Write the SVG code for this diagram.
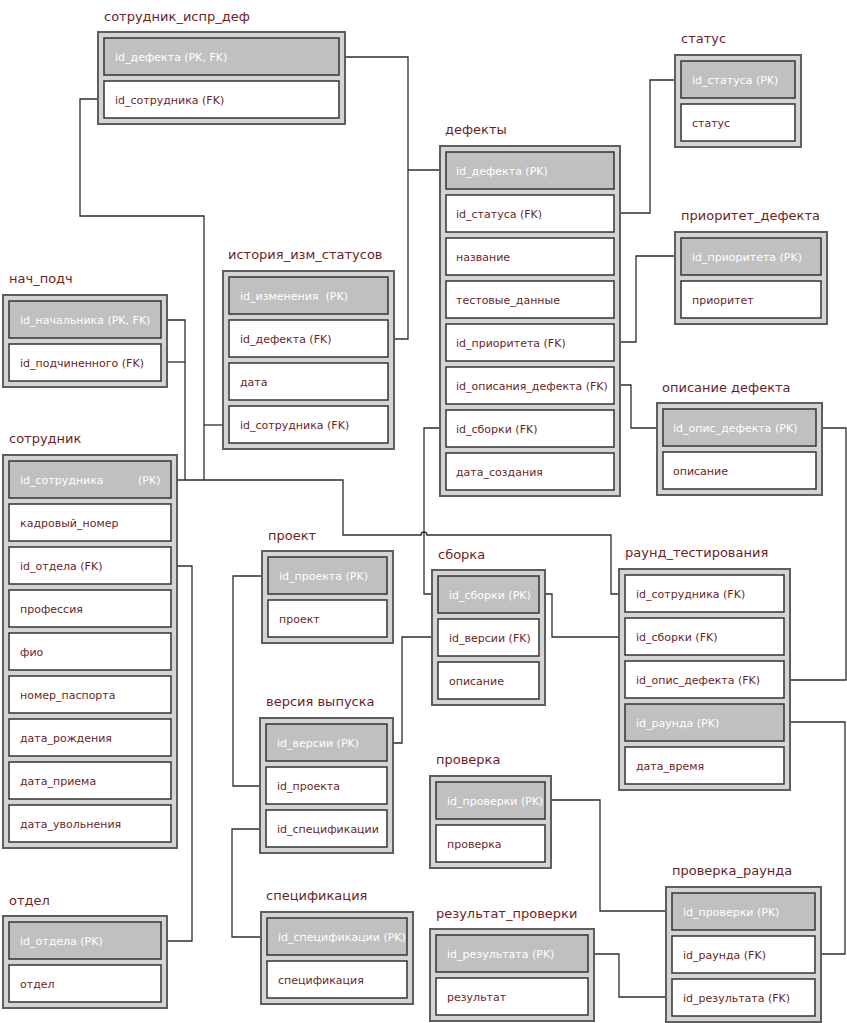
<svg xmlns="http://www.w3.org/2000/svg" width="847" height="1023" viewBox="0 0 847 1023">
<style>
.bg{fill:#ffffff}
.tbl{fill:#d4d4d4;stroke:#5e5e5e;stroke-width:2}
.r{fill:#ffffff;stroke:#333333;stroke-width:1.5}
.pk{fill:#c0c0c0;stroke:#333333;stroke-width:1.5}
.t{font-family:"DejaVu Sans",sans-serif;font-size:13px;fill:#6b1f1f}
.f{font-family:"DejaVu Sans",sans-serif;font-size:11px;fill:#6b1f1f}
.fp{font-family:"DejaVu Sans",sans-serif;font-size:11px;fill:#ffffff}
.c{fill:none;stroke:#2e2e2e;stroke-width:1.3}
</style>
<rect class="bg" x="0" y="0" width="847" height="1023"/>
<g id="connectors">
<path class="c" d="M339,57 H408 V339 H388"/>
<path class="c" d="M408,170 H446"/>
<path class="c" d="M104,99 H80 V216 H204 V480"/>
<path class="c" d="M204,425 H229"/>
<path class="c" d="M161,320 H185 V480"/>
<path class="c" d="M161,362 H185"/>
<path class="c" d="M171,480 H343 V535 H421 A3,3 0 0 1 427,535 H611 V594 H625"/>
<path class="c" d="M614,213 H650 V80 H681"/>
<path class="c" d="M614,342 H636 V256 H681"/>
<path class="c" d="M614,385 H631 V428 H663"/>
<path class="c" d="M816,428 H846 V680 H784"/>
<path class="c" d="M446,428 H424 V594 H438"/>
<path class="c" d="M539,594 H552 V637 H625"/>
<path class="c" d="M438,637 H402 V743 H387"/>
<path class="c" d="M268,576 H233 V786 H266"/>
<path class="c" d="M266,829 H232 V937 H267"/>
<path class="c" d="M171,566 H192 V941 H161"/>
<path class="c" d="M784,722 H845 V954 H815"/>
<path class="c" d="M545,800 H600 V911 H672"/>
<path class="c" d="M588,954 H619 V997 H672"/>
</g>
<g id="sotrudnik_ispr_def">
<text class="t" x="104" y="21">сотрудник_испр_деф</text>
<rect class="tbl" x="98" y="32" width="247" height="92"/>
<rect class="pk" x="104" y="38" width="235" height="37"/>
<text class="fp" x="115" y="61">id_дефекта (PK, FK)</text>
<rect class="r" x="104" y="81" width="235" height="37"/>
<text class="f" x="115" y="104">id_сотрудника (FK)</text>
</g>
<g id="defekty">
<text class="t" x="445" y="134">дефекты</text>
<rect class="tbl" x="440" y="146" width="180" height="350"/>
<rect class="pk" x="446" y="152" width="168" height="37"/>
<text class="fp" x="456" y="175">id_дефекта (PK)</text>
<rect class="r" x="446" y="195" width="168" height="37"/>
<text class="f" x="456" y="218">id_статуса (FK)</text>
<rect class="r" x="446" y="238" width="168" height="37"/>
<text class="f" x="456" y="261">название</text>
<rect class="r" x="446" y="281" width="168" height="37"/>
<text class="f" x="456" y="304">тестовые_данные</text>
<rect class="r" x="446" y="324" width="168" height="37"/>
<text class="f" x="456" y="347">id_приоритета (FK)</text>
<rect class="r" x="446" y="367" width="168" height="37"/>
<text class="f" x="456" y="390">id_описания_дефекта (FK)</text>
<rect class="r" x="446" y="410" width="168" height="37"/>
<text class="f" x="456" y="433">id_сборки (FK)</text>
<rect class="r" x="446" y="453" width="168" height="37"/>
<text class="f" x="456" y="476">дата_создания</text>
</g>
<g id="status">
<text class="t" x="681" y="43">статус</text>
<rect class="tbl" x="675" y="55" width="126" height="92"/>
<rect class="pk" x="681" y="61" width="114" height="37"/>
<text class="fp" x="692" y="84">id_статуса (PK)</text>
<rect class="r" x="681" y="104" width="114" height="37"/>
<text class="f" x="692" y="127">статус</text>
</g>
<g id="prioritet_defekta">
<text class="t" x="681" y="220">приоритет_дефекта</text>
<rect class="tbl" x="675" y="232" width="152" height="92"/>
<rect class="pk" x="681" y="238" width="140" height="37"/>
<text class="fp" x="692" y="261">id_приоритета (PK)</text>
<rect class="r" x="681" y="281" width="140" height="37"/>
<text class="f" x="692" y="304">приоритет</text>
</g>
<g id="opisanie_defekta">
<text class="t" x="662" y="392">описание дефекта</text>
<rect class="tbl" x="657" y="403" width="165" height="92"/>
<rect class="pk" x="663" y="409" width="153" height="37"/>
<text class="fp" x="673" y="432">id_опис_дефекта (PK)</text>
<rect class="r" x="663" y="452" width="153" height="37"/>
<text class="f" x="673" y="475">описание</text>
</g>
<g id="nach_podch">
<text class="t" x="9" y="283">нач_подч</text>
<rect class="tbl" x="3" y="295" width="164" height="92"/>
<rect class="pk" x="9" y="301" width="152" height="37"/>
<text class="fp" x="20" y="324">id_начальника (PK, FK)</text>
<rect class="r" x="9" y="344" width="152" height="37"/>
<text class="f" x="20" y="367">id_подчиненного (FK)</text>
</g>
<g id="istoriya_izm_statusov">
<text class="t" x="228" y="259">история_изм_статусов</text>
<rect class="tbl" x="223" y="271" width="171" height="178"/>
<rect class="pk" x="229" y="277" width="159" height="37"/>
<text class="fp" x="240" y="300" xml:space="preserve">id_изменения  (PK)</text>
<rect class="r" x="229" y="320" width="159" height="37"/>
<text class="f" x="240" y="343">id_дефекта (FK)</text>
<rect class="r" x="229" y="363" width="159" height="37"/>
<text class="f" x="240" y="386">дата</text>
<rect class="r" x="229" y="406" width="159" height="37"/>
<text class="f" x="240" y="429">id_сотрудника (FK)</text>
</g>
<g id="sotrudnik">
<text class="t" x="9" y="443">сотрудник</text>
<rect class="tbl" x="3" y="455" width="174" height="393"/>
<rect class="pk" x="9" y="461" width="162" height="37"/>
<text class="fp" x="20" y="484">id_сотрудника</text>
<text class="fp" x="138" y="484">(PK)</text>
<rect class="r" x="9" y="504" width="162" height="37"/>
<text class="f" x="20" y="527">кадровый_номер</text>
<rect class="r" x="9" y="547" width="162" height="37"/>
<text class="f" x="20" y="570">id_отдела (FK)</text>
<rect class="r" x="9" y="590" width="162" height="37"/>
<text class="f" x="20" y="613">профессия</text>
<rect class="r" x="9" y="633" width="162" height="37"/>
<text class="f" x="20" y="656">фио</text>
<rect class="r" x="9" y="676" width="162" height="37"/>
<text class="f" x="20" y="699">номер_паспорта</text>
<rect class="r" x="9" y="719" width="162" height="37"/>
<text class="f" x="20" y="742">дата_рождения</text>
<rect class="r" x="9" y="762" width="162" height="37"/>
<text class="f" x="20" y="785">дата_приема</text>
<rect class="r" x="9" y="805" width="162" height="37"/>
<text class="f" x="20" y="828">дата_увольнения</text>
</g>
<g id="otdel">
<text class="t" x="9" y="905">отдел</text>
<rect class="tbl" x="3" y="916" width="164" height="92"/>
<rect class="pk" x="9" y="922" width="152" height="37"/>
<text class="fp" x="20" y="945">id_отдела (PK)</text>
<rect class="r" x="9" y="965" width="152" height="37"/>
<text class="f" x="20" y="988">отдел</text>
</g>
<g id="specifikaciya">
<text class="t" x="266" y="900">спецификация</text>
<rect class="tbl" x="261" y="912" width="152" height="92"/>
<rect class="pk" x="267" y="918" width="140" height="37"/>
<text class="fp" x="278" y="941">id_спецификации (PK)</text>
<rect class="r" x="267" y="961" width="140" height="37"/>
<text class="f" x="278" y="984">спецификация</text>
</g>
<g id="proekt">
<text class="t" x="268" y="540">проект</text>
<rect class="tbl" x="262" y="551" width="131" height="92"/>
<rect class="pk" x="268" y="557" width="119" height="37"/>
<text class="fp" x="279" y="580">id_проекта (PK)</text>
<rect class="r" x="268" y="600" width="119" height="37"/>
<text class="f" x="279" y="623">проект</text>
</g>
<g id="versiya_vypuska">
<text class="t" x="266" y="706">версия выпуска</text>
<rect class="tbl" x="260" y="718" width="133" height="135"/>
<rect class="pk" x="266" y="724" width="121" height="37"/>
<text class="fp" x="277" y="747">id_версии (PK)</text>
<rect class="r" x="266" y="767" width="121" height="37"/>
<text class="f" x="277" y="790">id_проекта</text>
<rect class="r" x="266" y="810" width="121" height="37"/>
<text class="f" x="277" y="833">id_спецификации</text>
</g>
<g id="sborka">
<text class="t" x="438" y="559">сборка</text>
<rect class="tbl" x="432" y="570" width="113" height="135"/>
<rect class="pk" x="438" y="576" width="101" height="37"/>
<text class="fp" x="449" y="599">id_сборки (PK)</text>
<rect class="r" x="438" y="619" width="101" height="37"/>
<text class="f" x="449" y="642">id_версии (FK)</text>
<rect class="r" x="438" y="662" width="101" height="37"/>
<text class="f" x="449" y="685">описание</text>
</g>
<g id="raund_testirovaniya">
<text class="t" x="625" y="557">раунд_тестирования</text>
<rect class="tbl" x="619" y="569" width="171" height="221"/>
<rect class="r" x="625" y="575" width="159" height="37"/>
<text class="f" x="636" y="598">id_сотрудника (FK)</text>
<rect class="r" x="625" y="618" width="159" height="37"/>
<text class="f" x="636" y="641">id_сборки (FK)</text>
<rect class="r" x="625" y="661" width="159" height="37"/>
<text class="f" x="636" y="684">id_опис_дефекта (FK)</text>
<rect class="pk" x="625" y="704" width="159" height="37"/>
<text class="fp" x="636" y="727">id_раунда (PK)</text>
<rect class="r" x="625" y="747" width="159" height="37"/>
<text class="f" x="636" y="770">дата_время</text>
</g>
<g id="proverka">
<text class="t" x="436" y="764">проверка</text>
<rect class="tbl" x="430" y="776" width="121" height="92"/>
<rect class="pk" x="436" y="782" width="109" height="37"/>
<text class="fp" x="447" y="805">id_проверки (PK)</text>
<rect class="r" x="436" y="825" width="109" height="37"/>
<text class="f" x="447" y="848">проверка</text>
</g>
<g id="rezultat_proverki">
<text class="t" x="436" y="918">результат_проверки</text>
<rect class="tbl" x="430" y="929" width="164" height="92"/>
<rect class="pk" x="436" y="935" width="152" height="37"/>
<text class="fp" x="447" y="958">id_результата (PK)</text>
<rect class="r" x="436" y="978" width="152" height="37"/>
<text class="f" x="447" y="1001">результат</text>
</g>
<g id="proverka_raunda">
<text class="t" x="672" y="875">проверка_раунда</text>
<rect class="tbl" x="666" y="887" width="155" height="135"/>
<rect class="pk" x="672" y="893" width="143" height="37"/>
<text class="fp" x="683" y="916">id_проверки (PK)</text>
<rect class="r" x="672" y="936" width="143" height="37"/>
<text class="f" x="683" y="959">id_раунда (FK)</text>
<rect class="r" x="672" y="979" width="143" height="37"/>
<text class="f" x="683" y="1002">id_результата (FK)</text>
</g>
</svg>
